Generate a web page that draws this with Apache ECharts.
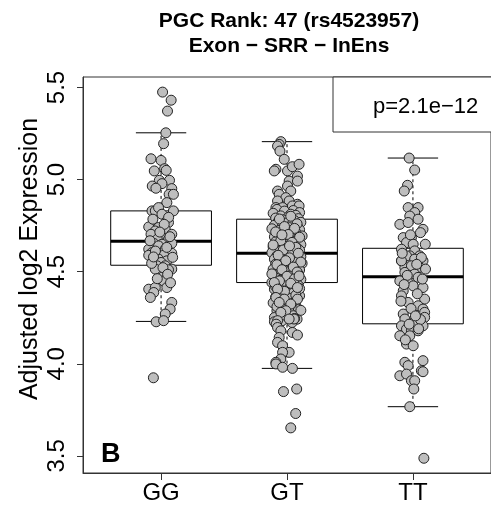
<!DOCTYPE html>
<html>
<head>
<meta charset="utf-8">
<script src="https://cdn.jsdelivr.net/npm/echarts@6/dist/echarts.min.js"></script>
<style>
  html, body { margin: 0; padding: 0; background: #fff; }
  #chart { width: 491px; height: 505px; }
</style>
</head>
<body>
<div id="chart"></div>
<script>
// Genotype groups on the x axis
const genotypes = ['GG', 'GT', 'TT'];

// Box summaries per genotype: [lower whisker, Q1, median, Q3, upper whisker]
const boxStats = [
  [4.230, 4.535, 4.665, 4.830, 5.254],
  [3.975, 4.441, 4.600, 4.785, 5.206],
  [3.767, 4.217, 4.472, 4.627, 5.117]
];

const yTicks = [3.5, 4.0, 4.5, 5.0, 5.5];
const titleLines = ['PGC Rank: 47 (rs4523957)', 'Exon \u2212 SRR \u2212 InEns'];
const yAxisTitle = 'Adjusted log2 Expression';
const pValueText = 'p=2.1e\u221212';
const panelTag = 'B';

// Individual samples: [horizontal jitter, adjusted log2 expression]
const ggPoints = [
  [0.012,5.475],[0.080,5.431],[0.051,5.372],[0.038,5.254],[0.020,5.195],[-0.080,5.113],[0.000,5.104],
  [-0.054,5.047],[0.028,5.059],[0.041,5.050],[-0.014,4.996],[0.067,4.996],[0.007,4.978],[-0.070,4.965],
  [-0.041,4.953],[0.085,4.951],[0.064,4.920],[0.098,4.920],[0.046,4.875],[-0.072,4.830],[-0.046,4.830],
  [-0.020,4.848],[0.098,4.830],[0.007,4.812],[0.046,4.775],[0.059,4.767],[-0.098,4.743],[-0.020,4.740],
  [0.033,4.730],[-0.046,4.721],[0.085,4.703],[-0.080,4.703],[0.000,4.694],[-0.030,4.676],[0.059,4.676],
  [-0.058,4.654],[0.007,4.649],[-0.098,4.622],[-0.020,4.640],[0.085,4.654],[0.033,4.622],[-0.072,4.604],
  [-0.033,4.595],[0.085,4.600],[0.020,4.589],[-0.098,4.589],[-0.020,4.568],[-0.058,4.559],[0.046,4.559],
  [0.000,4.550],[-0.033,4.532],[0.033,4.532],[0.085,4.514],[0.059,4.510],[0.007,4.504],[-0.046,4.514],
  [0.020,4.477],[0.020,4.450],[0.046,4.414],[-0.098,4.405],[-0.046,4.414],[-0.058,4.387],[-0.085,4.360],
  [0.085,4.333],[0.072,4.297],[0.033,4.270],[-0.039,4.228],[0.020,4.234],[-0.061,3.924],
  [0.060,4.795],[-0.065,4.785],[0.025,4.757],[-0.010,4.715],[0.070,4.690],[-0.088,4.668],[0.045,4.632],
  [-0.045,4.612],[0.092,4.578],[-0.075,4.545],[0.015,4.522],[0.052,4.486],[-0.030,4.462],[0.075,4.440],
  [-0.060,4.580]
];

const gtPoints = [
  [-0.049,5.206],[-0.062,5.191],[-0.075,5.182],[-0.056,5.155],[-0.022,5.110],[-0.088,5.056],[-0.101,5.047],
  [0.004,5.047],[0.043,5.070],[0.096,5.083],[0.083,5.019],[0.017,4.992],[0.083,4.992],[0.004,4.965],
  [0.030,4.938],[-0.075,4.938],[-0.062,4.920],[-0.009,4.902],[-0.075,4.884],[0.017,4.884],[0.083,4.866],
  [-0.088,4.848],[-0.035,4.848],[0.043,4.857],[0.096,4.857],
  [-0.08,4.838],[0.05,4.832],[-0.02,4.829],[0.10,4.821],[-0.11,4.817],[0.03,4.812],[0.07,4.806],[-0.05,4.803],[0.01,4.797],[-0.09,4.791],
  [0.09,4.788],[-0.03,4.781],[0.06,4.777],[-0.07,4.772],[0.11,4.768],[-0.01,4.763],[0.04,4.757],[-0.10,4.752],[0.08,4.749],[-0.04,4.743],
  [0.02,4.739],[-0.12,4.733],[0.10,4.728],[-0.06,4.724],[0.00,4.719],[0.07,4.713],[-0.08,4.709],[0.05,4.705],[-0.02,4.698],[0.12,4.694],
  [-0.10,4.689],[0.03,4.684],[-0.05,4.679],[0.09,4.675],[-0.01,4.671],[0.06,4.666],[-0.09,4.662],[0.02,4.656],[-0.04,4.652],[0.11,4.647],
  [-0.07,4.643],[0.04,4.638],[-0.11,4.634],[0.08,4.629],[0.00,4.625],[-0.03,4.621],[0.10,4.616],[-0.06,4.612],[0.05,4.607],[-0.12,4.603],
  [0.07,4.598],[-0.02,4.594],[0.03,4.591],[-0.08,4.586],[0.11,4.581],[-0.04,4.577],[0.01,4.572],[-0.10,4.568],[0.09,4.563],[-0.05,4.558],
  [0.06,4.554],[-0.01,4.549],[0.12,4.545],[-0.09,4.541],[0.02,4.536],[-0.06,4.531],[0.08,4.527],[-0.03,4.522],[0.04,4.518],[-0.11,4.513],
  [0.10,4.509],[-0.07,4.504],[0.00,4.499],[0.05,4.495],[-0.04,4.491],[0.09,4.486],[-0.10,4.481],[0.03,4.477],[-0.02,4.472],[0.07,4.468],
  [-0.08,4.463],[0.11,4.458],[-0.05,4.454],[0.01,4.449],[0.06,4.445],[-0.12,4.441],[0.04,4.436],[-0.03,4.431],[0.09,4.425],[-0.07,4.418],
  [0.02,4.412],[-0.10,4.405],[0.08,4.399],[-0.01,4.391],[0.05,4.384],[-0.06,4.377],[0.10,4.369],[-0.09,4.362],[0.03,4.355],[-0.04,4.347],
  [0.07,4.338],[-0.11,4.331],[0.01,4.322],[0.06,4.315],[-0.05,4.306],[0.09,4.297],[-0.08,4.288],[0.02,4.279],[-0.02,4.270],[0.05,4.261],
  [-0.10,4.251],[0.08,4.242],[-0.04,4.233],[0.04,4.224],
  [0.03,4.801],[-0.06,4.786],[0.08,4.760],[-0.02,4.745],[0.06,4.735],[-0.09,4.716],[0.01,4.702],[0.10,4.687],[-0.05,4.668],[0.04,4.659],
  [-0.11,4.645],[0.07,4.632],[-0.03,4.618],[0.09,4.600],[-0.07,4.589],[0.02,4.575],[-0.01,4.560],[0.11,4.552],[-0.08,4.538],[0.05,4.525],
  [-0.04,4.511],[0.08,4.498],[-0.12,4.488],[0.00,4.475],[0.06,4.461],[-0.06,4.450],[0.03,4.437],[-0.09,4.420],[0.10,4.408],[-0.02,4.393],
  [0.07,4.372],[-0.05,4.352],[0.04,4.327],[-0.08,4.310],[0.11,4.290],[-0.03,4.265],[0.06,4.246],[-0.10,4.228],[0.02,4.640],[-0.04,4.700],
  [-0.101,4.441],[0.096,4.477],[-0.075,4.405],[0.083,4.414],[-0.088,4.360],[-0.022,4.351],[0.083,4.351],[-0.062,4.333],[0.030,4.324],
  [-0.009,4.288],[-0.049,4.279],[0.056,4.243],[0.017,4.243],[-0.075,4.234],
  [-0.086,4.215],[-0.075,4.197],[-0.049,4.179],[0.043,4.170],[0.083,4.156],[-0.062,4.143],[-0.075,4.116],[-0.035,4.098],
  [0.017,4.062],[-0.035,4.062],[-0.049,4.026],[-0.088,4.008],[-0.088,3.999],[-0.035,3.981],[0.043,3.975],
  [-0.028,3.849],[0.077,3.863],[0.069,3.730],[0.030,3.652]
];

const ttPoints = [
  [-0.030,5.117],[0.014,5.052],[-0.043,4.969],[-0.069,4.938],[-0.038,4.848],[0.041,4.848],[0.014,4.821],
  [-0.025,4.802],[0.041,4.785],[-0.104,4.757],[-0.038,4.767],[0.080,4.730],[-0.077,4.685],[-0.012,4.685],
  [-0.051,4.658],[0.002,4.649],[0.098,4.649],[-0.091,4.622],[0.014,4.613],[-0.025,4.586],[0.054,4.586],
  [-0.091,4.559],[-0.012,4.550],[0.080,4.559],[-0.064,4.523],[0.014,4.514],
  [-0.051,4.586],[0.014,4.568],[0.067,4.577],[-0.091,4.559],[-0.012,4.532],[0.054,4.523],[0.100,4.514],
  [-0.064,4.496],[0.014,4.487],[0.041,4.469],
  [-0.104,4.450],[-0.038,4.441],[0.002,4.423],[0.080,4.414],[-0.077,4.396],[-0.091,4.369],[-0.038,4.333],
  [0.093,4.351],[0.041,4.315],[0.080,4.297],[0.093,4.279],[-0.077,4.270],[-0.064,4.243],[0.093,4.252],
  [0.002,4.225],[0.080,4.206],[-0.091,4.206],[-0.051,4.188],[-0.012,4.179],[0.041,4.179],[-0.104,4.152],
  [-0.025,4.152],[-0.051,4.107],[0.002,4.098],[-0.064,4.008],[-0.038,3.990],[0.080,4.017],[0.067,3.962],
  [0.080,3.957],[-0.104,3.935],[-0.051,3.944],[-0.012,3.908],[0.014,3.908],[0.007,3.863],[-0.025,3.767],
  [0.087,3.487],
  [-0.020,4.700],[0.060,4.712],[-0.085,4.600],[0.030,4.540],[-0.045,4.480],[0.075,4.460],[-0.070,4.430],
  [0.035,4.380],[-0.015,4.300],[0.060,4.240],[-0.030,4.215],[0.020,4.260],[-0.095,4.340],[0.045,4.190],
  [-0.060,4.130]
];

const groupPoints = [ggPoints, gtPoints, ttPoints];

const FONT = '"Liberation Sans", Arial, sans-serif';
const INK = '#000';

const chart = echarts.init(document.getElementById('chart'), null, { renderer: 'canvas' });

// Box, median bar, dashed whiskers and whisker caps for one genotype
function renderBox(params, api) {
  const x = api.value(0);
  const lo = api.value(1), q1 = api.value(2), med = api.value(3), q3 = api.value(4), hi = api.value(5);
  const half = 0.4, cap = 0.2;
  const c = (xx, yy) => api.coord([xx, yy]);
  const tl = c(x - half, q3), br = c(x + half, q1);
  const mL = c(x - half, med), mR = c(x + half, med);
  const top = c(x, hi), q3p = c(x, q3), q1p = c(x, q1), bot = c(x, lo);
  const capTL = c(x - cap, hi), capTR = c(x + cap, hi);
  const capBL = c(x - cap, lo), capBR = c(x + cap, lo);
  const solid = { stroke: INK, lineWidth: 1, fill: null };
  const dashed = { stroke: INK, lineWidth: 1, lineDash: [3, 3] };
  return {
    type: 'group',
    children: [
      { type: 'line', shape: { x1: q3p[0], y1: q3p[1], x2: top[0], y2: top[1] }, style: dashed },
      { type: 'line', shape: { x1: q1p[0], y1: q1p[1], x2: bot[0], y2: bot[1] }, style: dashed },
      { type: 'line', shape: { x1: capTL[0], y1: capTL[1], x2: capTR[0], y2: capTR[1] }, style: solid },
      { type: 'line', shape: { x1: capBL[0], y1: capBL[1], x2: capBR[0], y2: capBR[1] }, style: solid },
      { type: 'rect', shape: { x: tl[0], y: tl[1], width: br[0] - tl[0], height: br[1] - tl[1] },
        style: { stroke: INK, lineWidth: 1, fill: '#fff' } },
      { type: 'line', shape: { x1: mL[0], y1: mL[1], x2: mR[0], y2: mR[1] },
        style: { stroke: INK, lineWidth: 3 } }
    ]
  };
}

const boxData = boxStats.map((s, i) => [i + 1].concat(s));
const pointData = [];
groupPoints.forEach((pts, i) => {
  pts.forEach(p => pointData.push([i + 1 + p[0], p[1]]));
});

const option = {
  animation: false,
  backgroundColor: '#fff',
  grid: {
    left: 83, top: 77, right: -4, bottom: 31,
    show: true, borderColor: '#333', borderWidth: 1, backgroundColor: 'transparent'
  },
  xAxis: {
    type: 'value',
    min: 0.38, max: 3.62,
    splitLine: { show: false },
    axisLine: { show: true, onZero: false, lineStyle: { color: '#333', width: 1 } },
    axisTick: { show: true, customValues: [1, 2, 3], length: 7, lineStyle: { color: '#333' } },
    axisLabel: {
      customValues: [1, 2, 3],
      formatter: v => genotypes[Math.round(v) - 1],
      fontFamily: FONT, fontSize: 24, color: INK, margin: 8
    }
  },
  yAxis: {
    type: 'value',
    min: 3.407, max: 5.557,
    splitLine: { show: false },
    axisLine: { show: true, onZero: false, lineStyle: { color: '#333', width: 1 } },
    axisTick: { show: true, customValues: yTicks, length: 6, lineStyle: { color: '#333' } },
    axisLabel: {
      customValues: yTicks,
      formatter: v => v.toFixed(1),
      rotate: 90,
      fontFamily: FONT, fontSize: 24, color: INK, margin: 14
    },
    name: yAxisTitle,
    nameLocation: 'middle',
    nameRotate: 90,
    nameGap: 40,
    nameMoveOverlap: false,
    nameTextStyle: { fontFamily: FONT, fontSize: 25, color: INK, padding: [0, 0, 0, 32] }
  },
  series: [
    {
      type: 'custom',
      name: 'box',
      renderItem: renderBox,
      encode: { x: 0, y: [1, 2, 3, 4, 5] },
      data: boxData,
      z: 2,
      silent: true
    },
    {
      type: 'scatter',
      name: 'samples',
      data: pointData,
      symbol: 'circle',
      symbolSize: 10,
      itemStyle: { color: '#bebebe', borderColor: '#222', borderWidth: 1, opacity: 1 },
      z: 3,
      silent: true
    }
  ],
  graphic: [
    { type: 'text', style: { text: titleLines[0], x: 289, y: 21, align: 'center', verticalAlign: 'middle',
               font: 'bold 21px ' + FONT, fill: INK } },
    { type: 'text', style: { text: titleLines[1], x: 289, y: 46, align: 'center', verticalAlign: 'middle',
               font: 'bold 21px ' + FONT, fill: INK } },
    { type: 'rect', shape: { x: 333, y: 77, width: 170, height: 55 },
      style: { fill: '#fff', stroke: '#333', lineWidth: 1 }, z: 10 },
    { type: 'text', style: { text: pValueText, x: 373, y: 107, align: 'left', verticalAlign: 'middle',
               font: '22px ' + FONT, fill: INK }, z: 11 },
    { type: 'text', style: { text: panelTag, x: 101, y: 455, align: 'left', verticalAlign: 'middle',
               font: 'bold 27px ' + FONT, fill: INK }, z: 11 }
  ]
};

chart.setOption(option);
</script>
</body>
</html>
